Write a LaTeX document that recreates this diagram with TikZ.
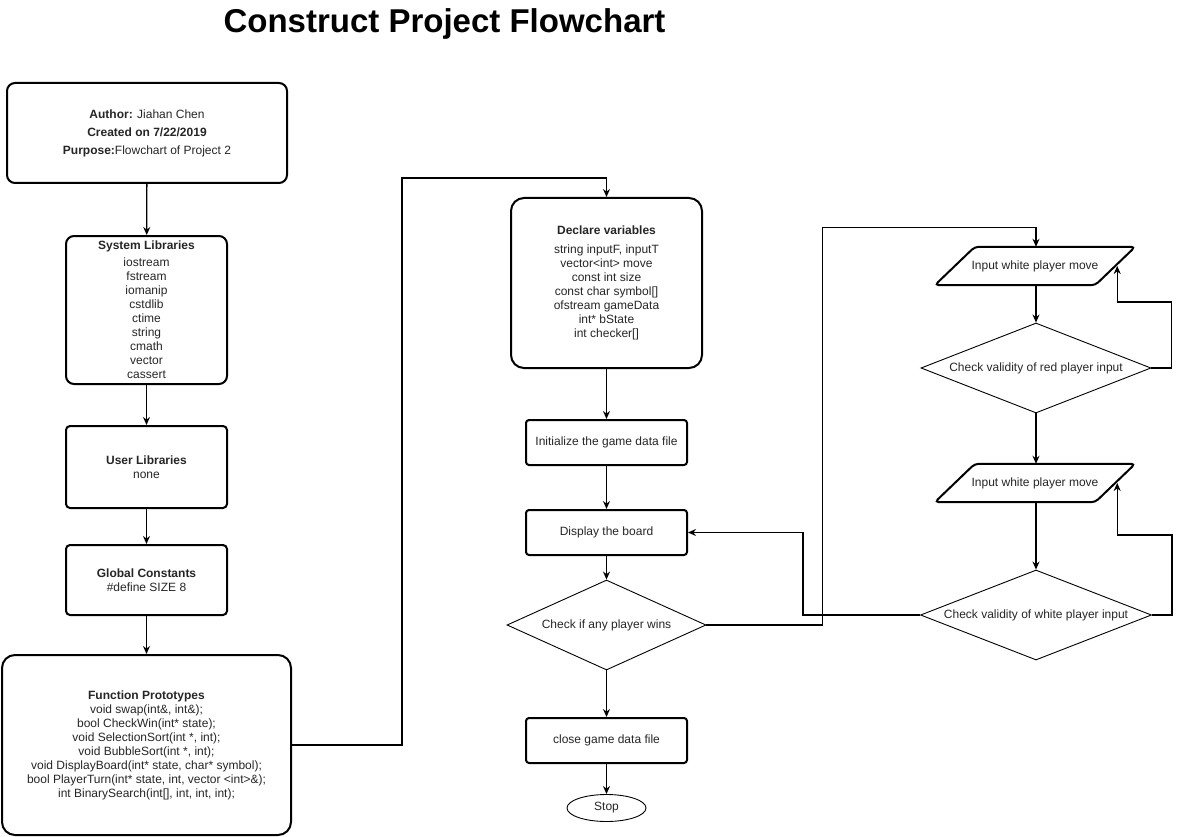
\documentclass[tikz,border=0pt]{standalone}
\usepackage{fontspec}
\setmainfont{Liberation Sans}
\usetikzlibrary{shapes.geometric,arrows.meta,calc}
\tikzset{
  every node/.style={font=\fontsize{12}{14}\selectfont, text=black!85},
  box/.style={draw=black, line width=2pt, align=center, inner sep=0pt},
  dia/.style={draw=black, line width=0.9pt, diamond, aspect=2.55, inner sep=0pt, align=center},
  arr/.style={line width=1.3pt, -{Stealth[length=8pt,width=7pt]}},
  lin/.style={line width=1.3pt},
  iotext/.style={minimum width=160pt, minimum height=38pt, inner sep=0pt},
}
\begin{document}
\begin{tikzpicture}[x=1pt,y=-1pt]
\useasboundingbox (0,0) rectangle (1180,837);
\fill[white] (0,0) rectangle (1180,837);

\node[font=\fontsize{33}{36}\selectfont\bfseries, text=black] (title) at (444.5,23.5) {Construct Project Flowchart};

% left column
\node[box, rounded corners=8pt, minimum width=280pt, minimum height=100pt,
      font=\fontsize{12}{18}\selectfont] (author) at (147,133)
  {\textbf{Author:} Jiahan Chen\\ \textbf{Created on 7/22/2019}\\ \textbf{Purpose:}Flowchart of Project 2};
\node[box, rounded corners=8pt, minimum width=161pt, minimum height=148pt] (syslib) at (146.5,310)
  {\textbf{System Libraries}\\[3pt] iostream\\ fstream\\ iomanip\\ cstdlib\\ ctime\\ string\\ cmath\\ vector\\ cassert};
\node[box, rounded corners=4pt, minimum width=161pt, minimum height=82pt] (userlib) at (146.5,467)
  {\textbf{User Libraries}\\ none};
\node[box, rounded corners=4pt, minimum width=161pt, minimum height=70pt] (globc) at (146.5,580)
  {\textbf{Global Constants}\\ \#define SIZE 8};
\node[box, rounded corners=13pt, minimum width=289pt, minimum height=180pt] (fproto) at (146.5,745)
  {\textbf{Function Prototypes}\\ void swap(int\&, int\&);\\ bool CheckWin(int* state);\\ void SelectionSort(int *, int);\\ void BubbleSort(int *, int);\\ void DisplayBoard(int* state, char* symbol);\\ bool PlayerTurn(int* state, int, vector <int>\&);\\ int BinarySearch(int[], int, int, int);};

% middle column
\node[box, rounded corners=13pt, minimum width=191pt, minimum height=170pt] (declv) at (606.5,283)
  {\textbf{Declare variables}\\[5pt] string inputF, inputT\\ vector<int> move\\ const int size\\ const char symbol[]\\ ofstream gameData\\ int* bState\\ int checker[]};
\node[box, rounded corners=3pt, minimum width=161pt, minimum height=45pt] (init) at (606.5,442.5)
  {Initialize the game data file};
\node[box, rounded corners=3pt, minimum width=161pt, minimum height=45pt] (disp) at (606.5,532.5)
  {Display the board};
\node[dia, minimum width=199pt, minimum height=90pt] (win) at (606.5,625)
  {Check if any player wins};
\node[box, rounded corners=3pt, minimum width=161pt, minimum height=45pt] (close) at (606.5,740.5)
  {close game data file};
\node[draw=black, line width=0.9pt, ellipse, minimum width=79pt, minimum height=27pt, inner sep=0pt] (stop) at (606.5,808)
  {Stop};

% right column
\node[iotext] (in1) at (1035,266) {Input white player move};
\node[dia, minimum width=230pt, minimum height=90pt] (rv) at (1036,368)
  {Check validity of red player input};
\node[iotext] (in2) at (1035,483) {Input white player move};
\node[dia, minimum width=231pt, minimum height=90pt] (wv) at (1036,615)
  {Check validity of white player input};

\foreach \n in {in1,in2}{
  \draw[line width=2pt, rounded corners=4pt]
    ($(\n.south west)+(-20,0)$) -- ($(\n.north west)+(20,0)$) --
    ($(\n.north east)+(20,0)$) -- ($(\n.south east)+(-20,0)$) -- cycle;
}

% connectors
\draw[arr] (author) -- (syslib);
\draw[arr] (syslib) -- (userlib);
\draw[arr] (userlib) -- (globc);
\draw[arr] (globc) -- (fproto);
\draw[arr] (fproto.east) -- ++(110,0) |- ($(declv.north)+(0,-19)$) -- (declv.north);
\draw[arr] (declv) -- (init);
\draw[arr] (init) -- (disp);
\draw[arr] (disp) -- (win);
\draw[arr] (win) -- (close);
\draw[arr] (close) -- (stop);
\draw[arr] (win.east) -- ++(116,0) |- ($(in1.north)+(1,-19)$) -- ([xshift=1pt]in1.north);
\draw[arr] ([xshift=1pt]in1.south) -- (rv.north);
\draw[arr] (rv.south) -- ([xshift=1pt]in2.north);
\draw[arr] ([xshift=1pt]in2.south) -- (wv.north);
\draw[arr] (rv.east) -- ++(20,0) |- ($(in1.east)+(2,36)$) -- ([xshift=2pt]in1.east);
\draw[arr] (wv.east) -- ++(20,0) |- ($(in2.east)+(2,52)$) -- ([xshift=2pt]in2.east);
\draw[arr] (wv.west) -- ++(-117,0) |- (disp.east);
\end{tikzpicture}
\end{document}
